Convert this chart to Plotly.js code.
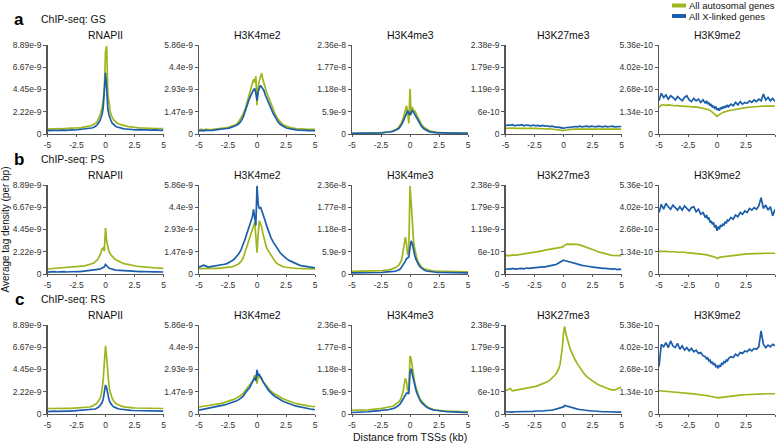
<!DOCTYPE html>
<html>
<head>
<meta charset="utf-8">
<script src="https://cdn.plot.ly/plotly-3.0.1.min.js"></script>
<style>html,body{margin:0;padding:0;background:#fff;}#chart{width:776px;height:443px;}</style>
</head>
<body>
<div id="chart"></div>
<script>
// Distance from TSS (kb)
const distKb = [-5,-4.8,-4.6,-4.4,-4.2,-4,-3.8,-3.6,-3.4,-3.2,-3,-2.8,-2.6,-2.4,-2.2,-2,-1.8,-1.6,-1.4,-1.2,
 -1,-0.9,-0.8,-0.7,-0.6,-0.5,-0.4,-0.3,-0.2,-0.1,0,0.1,0.2,0.3,0.4,0.5,0.6,0.7,0.8,0.9,1,
 1.2,1.4,1.6,1.8,2,2.2,2.4,2.6,2.8,3,3.2,3.4,3.6,3.8,4,4.2,4.4,4.6,4.8,5];

const rowNames = ["GS","PS","RS"];
const rowLetters = ["a","b","c"];
const markNames = ["RNAPII","H3K4me2","H3K4me3","H3K27me3","H3K9me2"];
const seriesNames = ["All autosomal genes","All X-linked genes"];
const xTickVals = [-5,-2.5,0,2.5,5];
const xTickText = ["-5","-2.5","0","2.5","5"];

// y tick values (RNAPII & H3K4me2 & H3K27me3 in 1e-9, H3K4me3 in 1e-8, H3K9me2 in 1e-10)
const rnaTicks = [0,2.22,4.45,6.67,8.89];
const rnaLabels = ["0","2.22e-9","4.45e-9","6.67e-9","8.89e-9"];
const k4me2Ticks = [0,1.47,2.93,4.4,5.86];
const k4me2Labels = ["0","1.47e-9","2.93e-9","4.4e-9","5.86e-9"];
const k4me3Ticks = [0,0.59,1.18,1.77,2.36];
const k4me3Labels = ["0","5.9e-9","1.18e-8","1.77e-8","2.36e-8"];
const k27Ticks = [0,0.6,1.19,1.79,2.38];
const k27Labels = ["0","6e-10","1.19e-9","1.79e-9","2.38e-9"];
const k9Ticks = [0,1.34,2.68,4.02,5.36];
const k9Labels = ["0","1.34e-10","2.68e-10","4.02e-10","5.36e-10"];

// ---- GS ----
const gsRnaA = [0.48,0.5,0.47,0.52,0.5,0.53,0.51,0.55,0.52,0.56,0.58,0.56,0.6,0.62,0.6,0.66,0.68,0.72,0.78,0.86,
 0.95,1.02,1.12,1.28,1.5,1.8,2.15,2.6,3.4,4.5,8.2,8.8,4.0,2.8,2.3,1.85,1.6,1.42,1.3,1.18,1.1,
 0.98,0.9,0.84,0.78,0.74,0.7,0.66,0.64,0.62,0.6,0.6,0.58,0.57,0.58,0.55,0.56,0.54,0.55,0.53,0.55];
const gsRnaX = [0.33,0.36,0.34,0.37,0.35,0.38,0.36,0.39,0.37,0.4,0.38,0.41,0.4,0.43,0.42,0.45,0.47,0.5,0.54,0.6,
 0.68,0.74,0.82,0.95,1.1,1.3,1.6,1.95,2.6,4.2,6.1,4.6,2.5,1.9,1.5,1.25,1.05,0.92,0.82,0.75,0.7,
 0.62,0.56,0.52,0.5,0.47,0.45,0.44,0.42,0.43,0.41,0.4,0.42,0.39,0.4,0.38,0.41,0.38,0.4,0.37,0.39];
const gsK4me2A = [0.28,0.3,0.27,0.31,0.29,0.32,0.3,0.33,0.34,0.36,0.38,0.4,0.42,0.46,0.5,0.55,0.62,0.78,1.0,1.3,
 1.7,1.95,2.25,2.55,2.8,3.0,3.3,3.6,3.4,3.8,1.9,3.1,3.5,3.7,4.0,3.6,3.4,3.1,2.8,2.6,2.4,
 2.0,1.6,1.25,0.98,0.78,0.64,0.55,0.48,0.44,0.4,0.37,0.35,0.33,0.34,0.31,0.32,0.3,0.31,0.29,0.3];
const gsK4me2X = [0.22,0.24,0.21,0.25,0.23,0.26,0.24,0.27,0.28,0.3,0.31,0.33,0.36,0.39,0.43,0.48,0.56,0.66,0.82,1.1,
 1.5,1.75,2.0,2.25,2.45,2.6,2.75,2.9,3.0,2.7,2.2,2.8,3.1,3.2,3.1,3.0,2.85,2.6,2.4,2.2,2.05,
 1.7,1.35,1.05,0.82,0.64,0.52,0.44,0.38,0.34,0.3,0.28,0.27,0.25,0.26,0.23,0.24,0.22,0.23,0.21,0.22];
const gsK4me3A = [0.02,0.02,0.02,0.02,0.02,0.02,0.02,0.03,0.03,0.03,0.03,0.03,0.03,0.04,0.04,0.05,0.06,0.07,0.09,0.12,
 0.17,0.21,0.26,0.32,0.4,0.5,0.6,0.75,0.55,0.28,1.2,0.5,0.72,0.6,0.62,0.56,0.48,0.42,0.35,0.3,0.25,
 0.18,0.13,0.1,0.08,0.06,0.05,0.04,0.04,0.03,0.03,0.03,0.03,0.02,0.02,0.02,0.02,0.02,0.02,0.02,0.02];
const gsK4me3X = [0.02,0.02,0.02,0.02,0.02,0.02,0.02,0.02,0.02,0.02,0.03,0.03,0.03,0.03,0.04,0.04,0.05,0.06,0.08,0.1,
 0.14,0.17,0.21,0.26,0.33,0.41,0.5,0.58,0.62,0.55,0.5,0.58,0.62,0.58,0.52,0.46,0.4,0.34,0.28,0.24,0.2,
 0.14,0.1,0.07,0.05,0.04,0.04,0.03,0.03,0.03,0.02,0.02,0.02,0.02,0.02,0.02,0.02,0.02,0.02,0.02,0.02];
const gsK27A = [0.15,0.16,0.15,0.16,0.15,0.16,0.15,0.15,0.16,0.15,0.15,0.16,0.15,0.15,0.14,0.15,0.14,0.14,0.13,0.14,
 0.13,0.13,0.12,0.12,0.12,0.11,0.11,0.1,0.1,0.09,0.09,0.1,0.1,0.11,0.11,0.12,0.12,0.12,0.13,0.13,0.13,
 0.13,0.14,0.13,0.14,0.14,0.13,0.14,0.14,0.13,0.14,0.14,0.13,0.14,0.13,0.14,0.13,0.14,0.13,0.14,0.13];
const gsK27X = [0.22,0.24,0.23,0.25,0.22,0.24,0.23,0.25,0.22,0.24,0.23,0.22,0.24,0.22,0.23,0.21,0.23,0.21,0.22,0.2,
 0.21,0.2,0.19,0.2,0.18,0.19,0.17,0.18,0.16,0.17,0.15,0.16,0.17,0.16,0.18,0.17,0.18,0.19,0.18,0.19,0.2,
 0.19,0.21,0.19,0.2,0.21,0.19,0.21,0.2,0.19,0.21,0.2,0.19,0.21,0.19,0.2,0.21,0.19,0.2,0.19,0.2];
const gsK9A = [1.62,1.74,1.76,1.73,1.75,1.72,1.73,1.7,1.71,1.68,1.69,1.66,1.67,1.64,1.65,1.62,1.63,1.6,1.58,1.57,
 1.55,1.52,1.5,1.46,1.42,1.38,1.32,1.26,1.19,1.12,1.06,1.12,1.18,1.22,1.26,1.3,1.32,1.35,1.37,1.38,1.4,
 1.43,1.46,1.49,1.52,1.54,1.56,1.58,1.6,1.61,1.63,1.64,1.65,1.66,1.67,1.68,1.67,1.69,1.68,1.7,1.66];
const gsK9X = [2.0,2.45,2.2,2.35,2.1,2.3,2.2,2.05,2.25,2.1,2.0,2.2,2.3,2.05,1.95,2.15,2.0,2.1,1.9,2.05,
 1.85,2.0,1.8,1.9,1.7,1.8,1.6,1.7,1.55,1.62,1.45,1.55,1.4,1.6,1.5,1.65,1.55,1.7,1.6,1.75,1.65,
 1.8,1.7,1.9,1.75,1.95,1.8,1.9,1.85,2.0,1.9,2.05,1.95,2.1,2.0,2.4,2.05,2.2,2.0,2.15,1.95];

// ---- PS ----
const psRnaA = [0.5,0.52,0.53,0.55,0.56,0.57,0.58,0.6,0.61,0.63,0.65,0.67,0.7,0.72,0.75,0.78,0.82,0.88,0.94,1.02,
 1.1,1.2,1.3,1.42,1.6,1.82,2.1,2.5,2.6,2.3,4.6,3.3,2.6,2.25,2.0,1.85,1.7,1.6,1.5,1.42,1.35,
 1.22,1.12,1.04,0.98,0.92,0.88,0.84,0.8,0.77,0.74,0.72,0.7,0.67,0.65,0.64,0.62,0.6,0.59,0.57,0.56];
const psRnaX = [0.18,0.22,0.19,0.23,0.2,0.22,0.19,0.23,0.2,0.22,0.21,0.24,0.22,0.25,0.23,0.26,0.27,0.28,0.3,0.32,
 0.34,0.36,0.38,0.41,0.44,0.48,0.52,0.57,0.62,0.72,0.95,0.82,0.68,0.6,0.55,0.5,0.47,0.44,0.41,0.39,0.38,
 0.35,0.33,0.31,0.3,0.28,0.27,0.26,0.27,0.25,0.24,0.25,0.23,0.24,0.22,0.23,0.21,0.22,0.2,0.21,0.2];
const psK4me2A = [0.35,0.36,0.35,0.36,0.35,0.36,0.36,0.37,0.37,0.38,0.39,0.4,0.42,0.44,0.47,0.51,0.57,0.66,0.8,1.05,
 1.5,1.75,2.0,2.25,2.5,2.8,3.05,3.3,3.4,2.5,1.4,2.6,3.5,3.3,3.1,2.7,2.35,2.05,1.8,1.62,1.5,
 1.2,0.95,0.78,0.65,0.56,0.5,0.46,0.43,0.41,0.39,0.38,0.37,0.36,0.36,0.35,0.35,0.34,0.34,0.33,0.33];
const psK4me2X = [0.45,0.5,0.58,0.52,0.46,0.48,0.5,0.52,0.55,0.58,0.6,0.64,0.68,0.75,0.85,0.95,1.1,1.3,1.55,1.9,
 2.35,2.6,2.85,3.05,3.25,3.45,3.75,4.25,3.6,3.2,5.8,4.6,4.3,4.4,4.2,4.0,3.75,3.5,3.25,3.0,2.75,
 2.4,2.1,1.85,1.6,1.4,1.25,1.1,0.98,0.88,0.8,0.73,0.66,0.6,0.55,0.52,0.48,0.45,0.43,0.42,0.4];
const psK4me3A = [0.07,0.07,0.07,0.07,0.07,0.07,0.07,0.08,0.08,0.08,0.08,0.08,0.09,0.09,0.1,0.1,0.11,0.13,0.15,0.18,
 0.22,0.26,0.32,0.4,0.56,0.82,0.98,0.8,0.5,0.65,2.33,1.9,1.3,0.9,0.68,0.5,0.4,0.32,0.26,0.22,0.18,
 0.14,0.12,0.1,0.09,0.08,0.08,0.07,0.07,0.07,0.07,0.07,0.07,0.06,0.06,0.06,0.06,0.06,0.06,0.06,0.06];
const psK4me3X = [0.03,0.03,0.03,0.03,0.03,0.03,0.03,0.03,0.03,0.04,0.04,0.04,0.04,0.04,0.05,0.05,0.06,0.06,0.07,0.08,
 0.1,0.12,0.15,0.19,0.23,0.28,0.34,0.4,0.43,0.45,0.7,0.88,0.8,0.6,0.5,0.4,0.32,0.26,0.21,0.18,0.15,
 0.11,0.08,0.07,0.06,0.05,0.05,0.04,0.04,0.04,0.04,0.04,0.03,0.03,0.03,0.03,0.03,0.03,0.03,0.03,0.03];
const psK27A = [0.49,0.5,0.49,0.51,0.5,0.51,0.52,0.53,0.54,0.55,0.55,0.57,0.58,0.59,0.6,0.61,0.62,0.64,0.65,0.66,
 0.67,0.67,0.68,0.68,0.69,0.7,0.7,0.71,0.71,0.72,0.74,0.78,0.79,0.8,0.8,0.81,0.81,0.81,0.8,0.8,0.8,
 0.79,0.78,0.76,0.74,0.72,0.69,0.67,0.64,0.62,0.59,0.57,0.55,0.54,0.52,0.51,0.5,0.5,0.49,0.49,0.49];
const psK27X = [0.12,0.14,0.13,0.15,0.13,0.14,0.14,0.15,0.14,0.16,0.15,0.16,0.16,0.17,0.17,0.18,0.19,0.19,0.2,0.21,
 0.22,0.23,0.24,0.25,0.26,0.28,0.3,0.31,0.33,0.34,0.37,0.36,0.35,0.35,0.34,0.33,0.32,0.31,0.3,0.29,0.27,
 0.26,0.24,0.23,0.22,0.2,0.2,0.19,0.18,0.17,0.17,0.16,0.15,0.15,0.14,0.14,0.13,0.14,0.12,0.13,0.12];
const psK9A = [1.36,1.37,1.35,1.36,1.34,1.35,1.33,1.34,1.32,1.33,1.3,1.31,1.29,1.28,1.26,1.25,1.24,1.22,1.21,1.19,
 1.17,1.15,1.14,1.12,1.1,1.08,1.06,1.04,1.02,1.0,0.93,0.98,1.0,1.02,1.03,1.05,1.06,1.07,1.08,1.09,1.1,
 1.12,1.14,1.15,1.17,1.18,1.19,1.2,1.21,1.22,1.23,1.23,1.24,1.24,1.25,1.24,1.25,1.25,1.24,1.26,1.25];
const psK9X = [3.7,4.2,3.9,4.25,4.05,3.9,4.15,4.0,3.85,4.05,3.85,4.1,3.95,3.8,4.0,4.05,3.75,3.9,3.6,3.7,
 3.4,3.55,3.3,3.4,3.1,3.2,3.0,3.1,2.8,2.95,2.6,2.85,2.7,2.95,2.85,3.0,2.95,3.15,3.05,3.25,3.2,
 3.4,3.3,3.55,3.45,3.7,3.6,3.8,3.7,3.95,3.85,4.0,3.9,4.1,4.6,3.95,4.15,3.85,4.05,3.5,3.9];

// ---- RS ----
const rsRnaA = [0.55,0.56,0.55,0.56,0.55,0.56,0.56,0.57,0.56,0.57,0.57,0.58,0.58,0.59,0.6,0.61,0.63,0.66,0.7,0.76,
 0.85,0.92,1.02,1.15,1.3,1.5,1.8,2.4,3.4,4.8,6.8,5.6,3.9,2.8,2.2,1.8,1.5,1.3,1.15,1.05,0.98,
 0.86,0.78,0.72,0.68,0.65,0.63,0.61,0.6,0.59,0.58,0.58,0.57,0.57,0.56,0.56,0.56,0.55,0.55,0.55,0.55];
const rsRnaX = [0.24,0.27,0.25,0.28,0.26,0.28,0.26,0.29,0.27,0.29,0.28,0.3,0.29,0.31,0.3,0.32,0.34,0.36,0.39,0.42,
 0.46,0.5,0.55,0.6,0.68,0.8,0.95,1.15,1.45,2.0,2.9,2.6,1.9,1.45,1.15,0.95,0.82,0.72,0.65,0.6,0.56,
 0.5,0.46,0.42,0.4,0.38,0.37,0.35,0.35,0.34,0.33,0.33,0.32,0.33,0.31,0.32,0.3,0.31,0.3,0.31,0.29];
const rsK4me2A = [0.46,0.48,0.5,0.52,0.54,0.56,0.59,0.62,0.65,0.68,0.72,0.76,0.8,0.85,0.9,0.96,1.04,1.12,1.22,1.35,
 1.6,1.68,1.76,1.84,1.93,2.05,2.15,2.3,2.55,2.45,2.0,2.5,2.45,2.4,2.3,2.15,2.05,1.95,1.85,1.75,1.65,
 1.5,1.38,1.28,1.18,1.1,1.02,0.95,0.88,0.82,0.77,0.72,0.68,0.64,0.6,0.58,0.55,0.53,0.51,0.49,0.48];
const rsK4me2X = [0.25,0.28,0.3,0.33,0.36,0.38,0.42,0.45,0.48,0.52,0.55,0.6,0.64,0.68,0.73,0.78,0.85,0.93,1.02,1.15,
 1.4,1.48,1.57,1.66,1.78,1.95,2.1,2.25,2.4,2.2,2.9,2.55,2.6,2.45,2.35,2.15,2.0,1.88,1.78,1.66,1.55,
 1.38,1.25,1.13,1.03,0.95,0.86,0.79,0.72,0.66,0.6,0.56,0.52,0.48,0.45,0.42,0.39,0.36,0.33,0.31,0.28];
const rsK4me3A = [0.1,0.1,0.1,0.1,0.11,0.11,0.11,0.11,0.12,0.12,0.13,0.13,0.14,0.15,0.16,0.17,0.18,0.2,0.22,0.26,
 0.3,0.34,0.4,0.47,0.58,0.78,0.95,0.85,0.6,0.65,1.54,1.45,1.2,1.0,0.85,0.72,0.6,0.5,0.43,0.38,0.34,
 0.27,0.21,0.17,0.14,0.12,0.11,0.1,0.09,0.08,0.08,0.08,0.07,0.07,0.07,0.07,0.06,0.06,0.06,0.06,0.06];
const rsK4me3X = [0.04,0.04,0.05,0.05,0.05,0.06,0.06,0.06,0.07,0.07,0.08,0.08,0.09,0.1,0.1,0.11,0.12,0.13,0.15,0.18,
 0.22,0.25,0.29,0.33,0.39,0.45,0.5,0.55,0.56,0.55,1.1,1.2,1.05,0.9,0.77,0.65,0.55,0.46,0.39,0.34,0.3,
 0.24,0.19,0.15,0.12,0.11,0.1,0.09,0.08,0.07,0.07,0.06,0.06,0.05,0.05,0.05,0.05,0.04,0.04,0.04,0.04];
const rsK27A = [0.62,0.64,0.68,0.62,0.63,0.64,0.65,0.66,0.67,0.68,0.7,0.71,0.72,0.74,0.76,0.78,0.8,0.83,0.86,0.9,
 0.95,0.98,1.01,1.05,1.09,1.15,1.22,1.32,1.5,1.78,2.16,2.34,2.15,2.02,1.92,1.82,1.72,1.64,1.57,1.5,1.45,
 1.34,1.24,1.15,1.07,1.0,0.95,0.9,0.86,0.82,0.78,0.75,0.72,0.7,0.68,0.66,0.65,0.64,0.66,0.7,0.71];
const rsK27X = [0.06,0.05,0.06,0.05,0.06,0.06,0.05,0.06,0.06,0.07,0.06,0.07,0.07,0.08,0.07,0.08,0.08,0.09,0.09,0.1,
 0.1,0.11,0.11,0.12,0.12,0.13,0.14,0.15,0.16,0.17,0.19,0.23,0.22,0.21,0.2,0.18,0.17,0.16,0.15,0.15,0.14,
 0.13,0.12,0.11,0.1,0.09,0.09,0.08,0.08,0.07,0.07,0.07,0.06,0.06,0.06,0.06,0.05,0.06,0.05,0.05,0.05];
const rsK9A = [1.4,1.39,1.38,1.37,1.36,1.35,1.34,1.32,1.31,1.3,1.28,1.27,1.25,1.24,1.22,1.21,1.19,1.18,1.16,1.15,
 1.13,1.12,1.1,1.09,1.07,1.05,1.04,1.02,1.0,0.98,0.95,0.97,0.99,1.0,1.01,1.02,1.03,1.04,1.05,1.06,1.07,
 1.09,1.1,1.12,1.13,1.14,1.15,1.16,1.17,1.18,1.19,1.19,1.2,1.2,1.21,1.21,1.22,1.22,1.22,1.23,1.22];
const rsK9X = [2.86,4.2,4.05,4.3,4.0,4.4,4.1,4.0,4.25,3.9,4.1,3.85,4.0,3.8,3.95,3.75,3.85,3.65,3.7,3.5,
 3.45,3.3,3.4,3.2,3.25,3.05,3.15,2.95,3.05,2.85,2.9,2.75,2.95,2.85,3.05,3.0,3.15,3.1,3.25,3.2,3.35,
 3.45,3.4,3.6,3.5,3.7,3.65,3.8,3.75,3.9,3.8,3.95,3.9,4.05,5.0,4.2,4.0,4.15,4.05,4.2,4.1];

const GREEN = "#9eb61c";
const BLUE = "#1b5eab";
const AXC = "#555555";
const FONT = "Liberation Sans, Arial, Helvetica, sans-serif";

const tickSets = [[rnaTicks,rnaLabels],[k4me2Ticks,k4me2Labels],[k4me3Ticks,k4me3Labels],[k27Ticks,k27Labels],[k9Ticks,k9Labels]];
const dataGrid = [
  [[gsRnaA,gsRnaX],[gsK4me2A,gsK4me2X],[gsK4me3A,gsK4me3X],[gsK27A,gsK27X],[gsK9A,gsK9X]],
  [[psRnaA,psRnaX],[psK4me2A,psK4me2X],[psK4me3A,psK4me3X],[psK27A,psK27X],[psK9A,psK9X]],
  [[rsRnaA,rsRnaX],[rsK4me2A,rsK4me2X],[rsK4me3A,rsK4me3X],[rsK27A,rsK27X],[rsK9A,rsK9X]]
];

// layout geometry (pixels)
const W = 776, H = 443;
const colPx = [[47.5,163.5],[199,315],[352,468],[505.5,621.5],[659,775]];
const rowPx = [[45,134],[185,274],[325,414]];
const px = v => v / W;
const py = v => 1 - v / H;

const traces = [];
const layout = {
  width: W, height: H,
  margin: {l:0, r:0, t:0, b:0, pad:0},
  paper_bgcolor: "#fff", plot_bgcolor: "#fff",
  showlegend: false,
  font: {family: FONT, size: 9, color: "#333"},
  annotations: [], shapes: []
};

let k = 0;
for (let r = 0; r < 3; r++) {
  for (let c = 0; c < 5; c++) {
    k++;
    const sfx = k === 1 ? "" : String(k);
    const [ticks, labels] = tickSets[c];
    const pair = dataGrid[r][c];
    [0,1].forEach(s => {
      traces.push({
        type: "scatter", mode: "lines",
        x: distKb, y: pair[s],
        name: seriesNames[s],
        xaxis: "x" + sfx, yaxis: "y" + sfx,
        line: {color: s === 0 ? GREEN : BLUE, width: 1.7},
        hoverinfo: "skip"
      });
    });
    layout["xaxis" + sfx] = {
      domain: [px(colPx[c][0]), px(colPx[c][1])],
      anchor: "y" + sfx,
      range: [-5, 5],
      tickmode: "array", tickvals: xTickVals, ticktext: xTickText,
      showline: true, linecolor: AXC, linewidth: 1.3,
      ticks: "outside", ticklen: 2, tickcolor: AXC, tickwidth: 1,
      showgrid: false, zeroline: false,
      tickfont: {family: FONT, size: 8.5, color: "#333"}
    };
    layout["yaxis" + sfx] = {
      domain: [py(rowPx[r][1]), py(rowPx[r][0])],
      anchor: "x" + sfx,
      range: [0, ticks[4]],
      tickmode: "array", tickvals: ticks, ticktext: labels,
      showline: true, linecolor: AXC, linewidth: 1.3,
      ticks: "outside", ticklen: 3, tickcolor: AXC, tickwidth: 1,
      showgrid: false, zeroline: false,
      tickfont: {family: FONT, size: 8.5, color: "#333"}
    };
    // panel title
    layout.annotations.push({
      xref: "paper", yref: "paper",
      x: px((colPx[c][0] + colPx[c][1]) / 2), y: py(rowPx[r][0] - 10),
      xanchor: "center", yanchor: "middle", showarrow: false,
      text: markNames[c], font: {family: FONT, size: 10.5, color: "#111"}
    });
  }
  // row letter and label
  const ly = 19 + 140 * r;
  layout.annotations.push({
    xref: "paper", yref: "paper", x: px(19), y: py(ly),
    xanchor: "center", yanchor: "middle", showarrow: false,
    text: "<b>" + rowLetters[r] + "</b>", font: {family: FONT, size: 17, color: "#000"}
  });
  layout.annotations.push({
    xref: "paper", yref: "paper", x: px(39), y: py(ly),
    xanchor: "left", yanchor: "middle", showarrow: false,
    text: "ChIP-seq: " + rowNames[r], font: {family: FONT, size: 10.5, color: "#111"}
  });
}

// axis titles
layout.annotations.push({
  xref: "paper", yref: "paper", x: px(410), y: py(437),
  xanchor: "center", yanchor: "middle", showarrow: false,
  text: "Distance from TSSs (kb)", font: {family: FONT, size: 10.5, color: "#111"}
});
layout.annotations.push({
  xref: "paper", yref: "paper", x: px(5), y: py(229.5),
  xanchor: "center", yanchor: "middle", showarrow: false, textangle: -90,
  text: "Average tag density (per bp)", font: {family: FONT, size: 10, color: "#111"}
});

// legend (swatches + labels)
[[5.5, GREEN, seriesNames[0]], [16, BLUE, seriesNames[1]]].forEach(([yy, col, txt]) => {
  layout.shapes.push({
    type: "line", xref: "paper", yref: "paper",
    x0: px(672), x1: px(686), y0: py(yy), y1: py(yy),
    line: {color: col, width: 4}
  });
  layout.annotations.push({
    xref: "paper", yref: "paper", x: px(687), y: py(yy),
    xanchor: "left", yanchor: "middle", showarrow: false,
    text: txt, font: {family: FONT, size: 9.5, color: "#111"}
  });
});

Plotly.newPlot("chart", traces, layout, {displayModeBar: false, staticPlot: true});
</script>
</body>
</html>
